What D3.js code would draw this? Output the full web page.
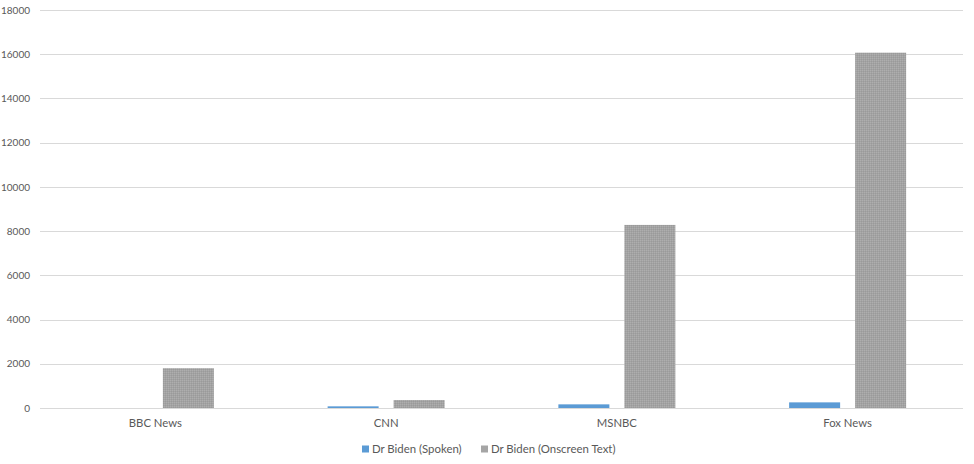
<!DOCTYPE html>
<html><head><meta charset="utf-8">
<script src="https://cdn.jsdelivr.net/npm/d3@7"></script>
<style>html,body{margin:0;padding:0;background:#fff;}svg{display:block;font-family:Lato,"Open Sans",sans-serif;}</style>
</head><body><svg id="c" width="974" height="464"></svg>
<script>
const categories = ["BBC News", "CNN", "MSNBC", "Fox News"];
const seriesNames = ["Dr Biden (Spoken)", "Dr Biden (Onscreen Text)"];
const spoken = [0, 75, 165, 255];
const onscreen = [1800, 360, 8280, 16070];
const yTicks = [0, 2000, 4000, 6000, 8000, 10000, 12000, 14000, 16000, 18000];

const svg = d3.select("#c");
const m = {l: 40, r: 11, t: 10, b: 56};
const W = 974, H = 464;
const defs = svg.append("defs");
const pat = defs.append("pattern").attr("id","gp").attr("width",2).attr("height",2).attr("patternUnits","userSpaceOnUse");
pat.append("rect").attr("width",2).attr("height",2).attr("fill","#a3a3a3");
pat.append("rect").attr("width",1).attr("height",1).attr("fill","#aeaeae");
pat.append("rect").attr("x",1).attr("y",1).attr("width",1).attr("height",1).attr("fill","#9a9a9a");

const x = d3.scaleBand().domain(categories).range([m.l, W - m.r]);
const y = d3.scaleLinear().domain([0, 18000]).range([H - m.b, m.t]);
const colors = ["#5b9bd5", "url(#gp)"];
const legendColors = ["#5b9bd5", "#a5a5a5"];

// gridlines
svg.append("g").selectAll("line").data(yTicks).join("line")
  .attr("x1", m.l).attr("x2", W - m.r)
  .attr("y1", d => Math.round(y(d)) + 0.5).attr("y2", d => Math.round(y(d)) + 0.5)
  .attr("stroke", "#d9d9d9").attr("stroke-width", 1);

// y labels
const yAxis = d3.axisLeft(y).tickValues(yTicks).tickSize(0).tickPadding(10).tickFormat(d3.format("d"));
const ya = svg.append("g").attr("transform", `translate(${m.l},0)`).call(yAxis);
ya.select(".domain").remove();
ya.selectAll("text").attr("fill", "#595959").attr("font-size", 10).attr("font-family", "Lato, sans-serif");

// bars
const barW = 51, gap = 15;
const data = [spoken, onscreen];
data.forEach((vals, si) => {
  svg.append("g").selectAll("rect").data(vals).join("rect")
    .attr("x", (d, i) => x(categories[i]) + x.bandwidth()/2 + (si === 0 ? -gap/2 - barW : gap/2))
    .attr("width", barW)
    .attr("y", d => y(d))
    .attr("height", d => y(0) - y(d))
    .attr("fill", colors[si]);
});

// x labels
const xAxis = d3.axisBottom(x).tickSize(0).tickPadding(11);
const xa = svg.append("g").attr("transform", `translate(0,${y(0)})`).call(xAxis);
xa.select(".domain").remove();
xa.selectAll("text").attr("fill", "#595959").attr("font-size", 11.3).attr("font-family", "Lato, sans-serif");

// legend
const lg = svg.append("g").attr("transform", "translate(362,449)");
const items = [{n: seriesNames[0], c: legendColors[0], x: 0}, {n: seriesNames[1], c: legendColors[1], x: 119}];
items.forEach(it => {
  lg.append("rect").attr("x", it.x).attr("y", -3.5).attr("width", 7).attr("height", 7).attr("fill", it.c);
  lg.append("text").attr("x", it.x + 10).attr("y", 0).attr("dy", "0.35em")
    .attr("fill", "#595959").attr("font-size", 11.4).attr("font-family", "Lato, sans-serif").text(it.n);
});
</script></body></html>
